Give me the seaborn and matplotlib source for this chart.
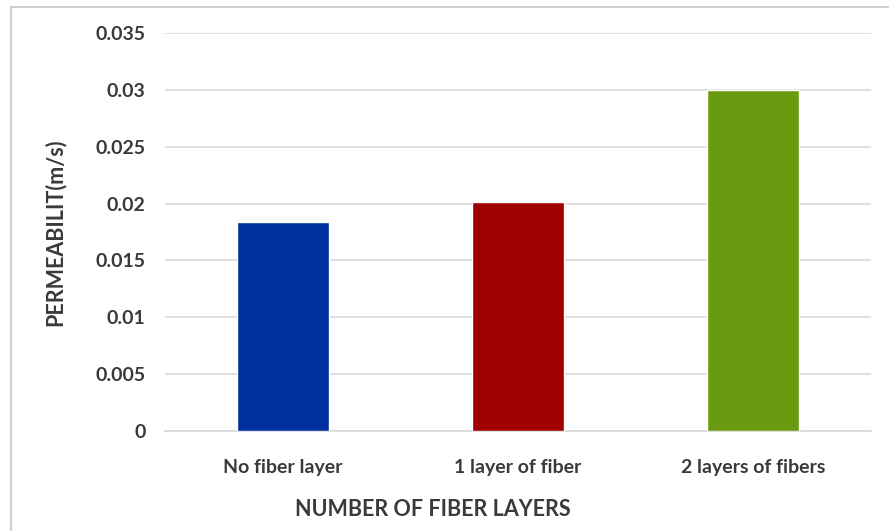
import matplotlib
matplotlib.use("Agg")
import matplotlib.pyplot as plt
import seaborn as sns
import pandas as pd
from matplotlib.patches import Rectangle

categories = ["No fiber layer", "1 layer of fiber", "2 layers of fibers"]
permeability = [0.01835, 0.0201, 0.0300]
bar_colors = ["#0030A0", "#A00000", "#6A9A10"]
y_ticks = [0, 0.005, 0.01, 0.015, 0.02, 0.025, 0.03, 0.035]
y_tick_labels = ["0", "0.005", "0.01", "0.015", "0.02", "0.025", "0.03", "0.035"]

sns.set_theme(style="white")
plt.rcParams["font.family"] = ["Lato", "DejaVu Sans"]

text_color = "#3A3A3A"
df = pd.DataFrame({"layers": categories, "perm": permeability})

fig = plt.figure(figsize=(8.89, 5.31), dpi=100)
ax = fig.add_axes([165 / 889, 1 - 431 / 531, (871 - 165) / 889, (431 - 33) / 531])

sns.barplot(data=df, x="layers", y="perm", hue="layers", palette=bar_colors,
            width=0.39, saturation=1, legend=False, ax=ax, zorder=3)

ax.set_ylim(0, 0.035)
ax.set_yticks(y_ticks)
ax.set_yticklabels(y_tick_labels)
ax.set_xlim(-0.5, 2.5)
ax.grid(axis="y", color="#D9D9D9", linewidth=1.2, zorder=0)
ax.grid(axis="x", visible=False)
for side in ["top", "right", "left"]:
    ax.spines[side].set_visible(False)
ax.spines["bottom"].set_color("#D9D9D9")
ax.spines["bottom"].set_linewidth(1.2)
ax.tick_params(axis="both", length=0, labelsize=14, labelcolor=text_color)
ax.tick_params(axis="y", pad=14)
ax.tick_params(axis="x", pad=20)
for lbl in ax.get_xticklabels() + ax.get_yticklabels():
    lbl.set_fontweight("bold")

ax.set_xlabel("")
ax.set_ylabel("")
fig.text(433 / 889, 1 - 510 / 531, "NUMBER OF FIBER LAYERS", ha="center", va="center",
         fontsize=15.5, fontweight="bold", color=text_color)
fig.text(55 / 889, 1 - 232 / 531, "PERMEABILIT(m/s)", ha="center", va="center",
         rotation=90, fontsize=15.5, fontweight="bold", color=text_color)

# Chart frame
fig.patches.append(Rectangle((11 / 889, -0.05), 1.1, 1 - 7 / 531 + 0.05,
                             transform=fig.transFigure, fill=False,
                             edgecolor="#D0D0D0", linewidth=1.5))

fig.savefig("out.png", dpi=100)
